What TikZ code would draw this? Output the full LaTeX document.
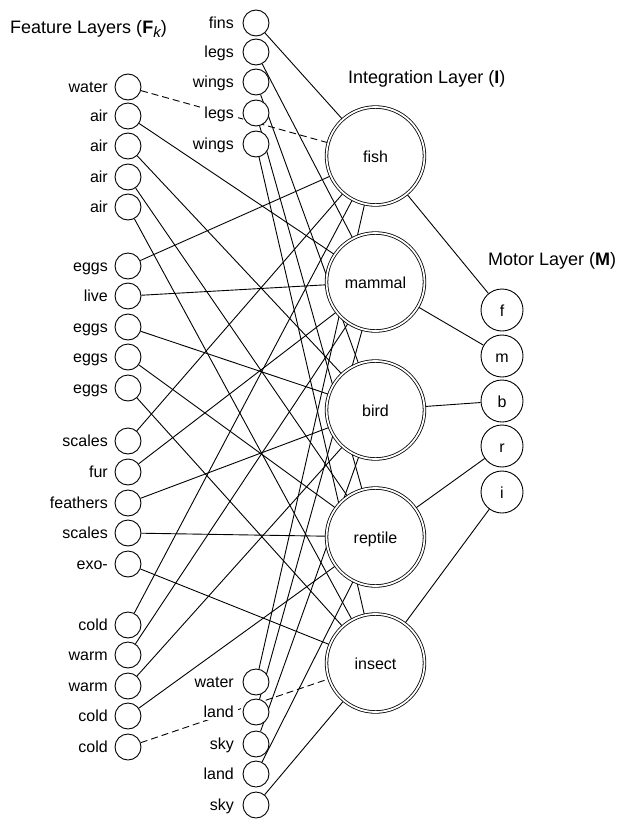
\documentclass[tikz,border=0pt]{standalone}
\usepackage{fontspec}
\setmainfont{Liberation Sans}
\usetikzlibrary{backgrounds}
\begin{document}
\begin{tikzpicture}[x=1pt,y=-1pt,
  small/.style={circle,draw,fill=white,line width=0.9pt,minimum size=26pt,inner sep=0pt},
  big/.style={circle,draw,double,double distance=1.8pt,line width=0.8pt,fill=white,minimum size=98pt,inner sep=0pt,
     font=\fontsize{16}{18}\selectfont,text height=12pt,text depth=0pt},
  motor/.style={circle,draw,fill=white,line width=0.9pt,minimum size=42pt,inner sep=0pt,
     font=\fontsize{16}{18}\selectfont,text height=12pt,text depth=0pt},
  lab/.style={anchor=east,fill=white,inner xsep=4pt,inner ysep=2pt,font=\fontsize{16}{18}\selectfont,text height=11pt,text depth=0pt},
  title/.style={anchor=base west,inner sep=0pt,font=\fontsize{18}{21}\selectfont},
  conn/.style={line width=0.9pt},
  inhib/.style={line width=0.9pt,dash pattern=on 7pt off 4pt}]
\useasboundingbox (0,0) rectangle (623,819);

% titles
\node[title] (tf) at (10,33) {Feature Layers (\textbf{F}\raisebox{-4pt}{\fontsize{15}{16}\selectfont\itshape k})};
\node[title] (ti) at (348,83) {Integration Layer (\textbf{I})};
\node[title] (tm) at (488,265) {Motor Layer (\textbf{M})};

% left feature columns
\foreach \n/\y/\t in {g1a/87/water,g1b/116/air,g1c/146/air,g1d/177/air,g1e/207/air,
                      g2a/266/eggs,g2b/296/live,g2c/327/eggs,g2d/357/eggs,g2e/388/eggs,
                      g3a/441/scales,g3b/472/fur,g3c/503/feathers,g3d/533/scales,g3e/564/exo-,
                      g4a/625/cold,g4b/655/warm,g4c/686/warm,g4d/716/cold,g4e/747/cold}{
  \node[small] (\n) at (128,\y) {};
  \node[lab] (\n l) at (112,\y) {\t};
}
% middle feature columns
\foreach \n/\y/\t in {t1/23/fins,t2/52/legs,t3/82/wings,t4/113/legs,t5/144/wings,
                      b1/682/water,b2/712/land,b3/744/sky,b4/774/land,b5/805/sky}{
  \node[small] (\n) at (256,\y) {};
  \node[lab] (\n l) at (238,\y) {\t};
}

% integration layer
\node[big] (fish) at (375.5,156) {fish};
\node[big] (mammal) at (375.5,282) {mammal};
\node[big] (bird) at (375.5,410) {bird};
\node[big] (reptile) at (375.5,537) {reptile};
\node[big] (insect) at (375.5,663) {insect};

% motor layer
\node[motor] (mf) at (502,310) {f};
\node[motor] (mm) at (502,356) {m};
\node[motor] (mb) at (502,401) {b};
\node[motor] (mr) at (502,446) {r};
\node[motor] (mi) at (502,492) {i};

\begin{pgfonlayer}{background}
  \foreach \g in {g2,g3}{
    \draw[conn] (\g a) -- (fish);
    \draw[conn] (\g b) -- (mammal);
    \draw[conn] (\g c) -- (bird);
    \draw[conn] (\g d) -- (reptile);
    \draw[conn] (\g e) -- (insect);
  }
  \draw[conn] (t1) -- (fish);
  \draw[conn] (t2) -- (mammal);
  \draw[conn] (t3) -- (bird);
  \draw[conn] (t4) -- (reptile);
  \draw[conn] (t5) -- (insect);
  \draw[conn] (b1) -- (fish);
  \draw[conn] (b2) -- (mammal);
  \draw[conn] (b3) -- (bird);
  \draw[conn] (b4) -- (reptile);
  \draw[conn] (b5) -- (insect);
  \draw[inhib] (g1a) -- (fish);
  \draw[conn] (g1b) -- (mammal);
  \draw[conn] (g1c) -- (bird);
  \draw[conn] (g1d) -- (reptile);
  \draw[conn] (g1e) -- (insect);
  \draw[conn] (g4a) -- (fish);
  \draw[conn] (g4b) -- (mammal);
  \draw[conn] (g4c) -- (bird);
  \draw[conn] (g4d) -- (reptile);
  \draw[inhib] (g4e) -- (insect);
  \draw[conn] (fish) -- (mf);
  \draw[conn] (mammal) -- (mm);
  \draw[conn] (bird) -- (mb);
  \draw[conn] (reptile) -- (mr);
  \draw[conn] (insect) -- (mi);
\end{pgfonlayer}
\end{tikzpicture}
\end{document}
